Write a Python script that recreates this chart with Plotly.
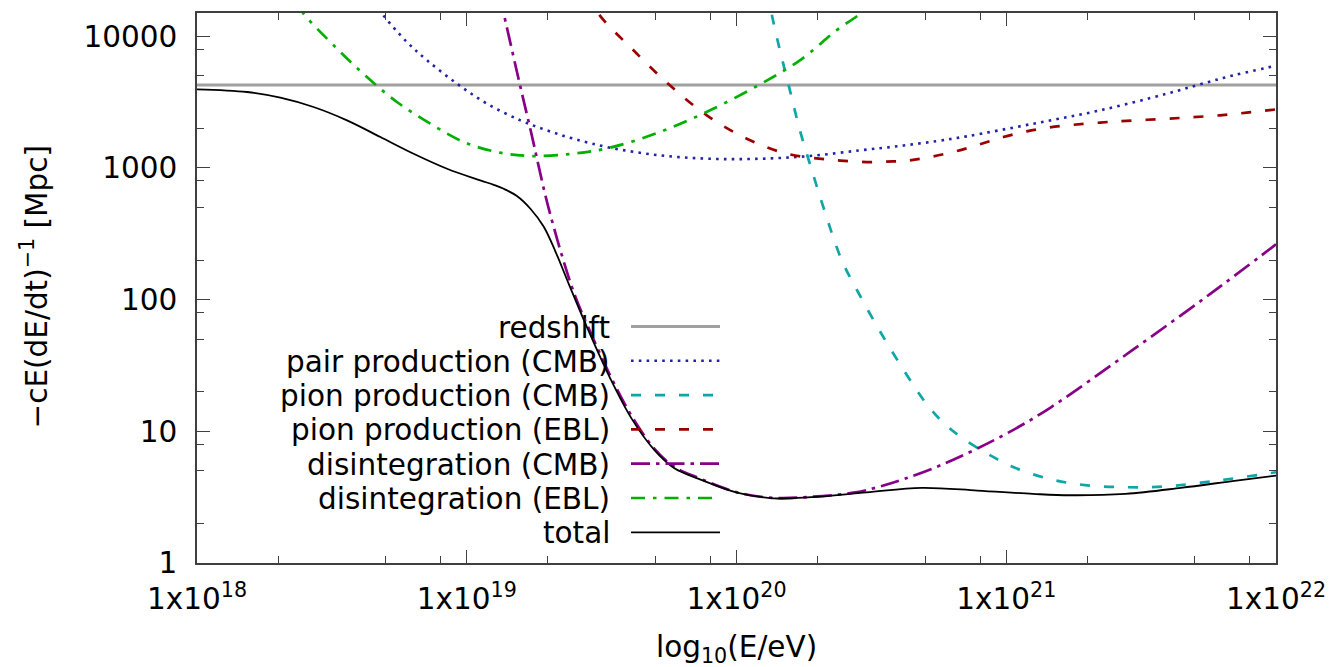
import plotly.graph_objects as go

# ---------------- data (x: log10(E/eV), y: loss length in Mpc) ----------------
redshift_logE = [18.0, 22.0]
redshift_val = [4270, 4270]

pair_logE = [18.66, 18.686, 18.778, 18.853, 18.964, 19.075, 19.199, 19.297, 19.396, 19.531,
             19.716, 19.902, 20.087, 20.272, 20.458, 20.606, 20.742, 20.853, 21.100, 21.348,
             21.595, 21.718, 21.842, 21.99, 22.0]
pair_val = [18000, 14870, 9060, 6570, 4365, 3080, 2300, 1931, 1668, 1426,
            1247, 1175, 1175, 1233, 1361, 1470, 1600, 1738, 2169, 2740,
            3664, 4317, 5054, 5919, 5990]

pion_cmb_logE = [20.115, 20.130, 20.161, 20.198, 20.235, 20.272, 20.322, 20.39, 20.456, 20.543,
                 20.635, 20.70, 20.76, 20.83, 20.93, 21.03, 21.167, 21.30, 21.45, 21.579,
                 21.785, 22.0]
pion_cmb_val = [22000, 14870, 7830, 3890, 1931, 1077, 505, 200, 109, 52.6,
                26.1, 16.6, 12.0, 9.1, 6.76, 5.31, 4.31, 3.89, 3.76, 3.80,
                4.23, 4.89]

pion_ebl_logE = [19.45, 19.488, 19.618, 19.753, 19.89, 20.038, 20.186, 20.334, 20.483, 20.581,
                 20.643, 20.73, 20.816, 20.903, 20.989, 21.076, 21.162, 21.249, 21.348, 21.446,
                 21.595, 21.694, 21.792, 21.891, 22.0]
pion_ebl_val = [21000, 14870, 7830, 4246, 2512, 1668, 1285, 1162, 1109, 1122,
                1143, 1225, 1343, 1514, 1718, 1897, 2032, 2128, 2213, 2280,
                2366, 2432, 2512, 2630, 2786]

dis_cmb_logE = [19.12, 19.137, 19.199, 19.236, 19.304, 19.397, 19.45, 19.53, 19.61, 19.695,
                19.77, 19.86, 20.002, 20.139, 20.276, 20.441, 20.53, 20.619, 20.756, 20.893,
                21.03, 21.167, 21.47, 21.76, 22.0]
dis_cmb_val = [21000, 14870, 4121, 1970, 491, 113, 62, 27.0, 13.2, 7.4,
               5.37, 4.42, 3.44, 3.12, 3.18, 3.44, 3.80, 4.33, 5.52, 7.41,
               10.35, 15.3, 41.7, 112, 263]

dis_ebl_logE = [18.37, 18.395, 18.519, 18.630, 18.741, 18.865, 18.989, 19.112, 19.236, 19.396,
                19.531, 19.716, 19.902, 20.087, 20.235, 20.371, 20.458, 20.49]
dis_ebl_val = [18000, 14870, 8060, 4909, 3170, 2169, 1574, 1321, 1233, 1285,
               1426, 1875, 2740, 4317, 6570, 11110, 14870, 17500]

total_logE = [18.0, 18.185, 18.309, 18.432, 18.556, 18.68, 18.803, 18.927, 19.05, 19.10,
              19.137, 19.186, 19.236, 19.285, 19.33, 19.378, 19.45, 19.53, 19.61, 19.695,
              19.77, 19.86, 20.002, 20.139, 20.276, 20.482, 20.687, 20.893, 21.099, 21.236,
              21.442, 21.647, 21.853, 22.0]
total_val = [3958, 3776, 3420, 2904, 2300, 1718, 1283, 987, 805, 745,
             695, 612, 490, 359, 229, 132, 58.9, 25.7, 12.6, 7.24,
             5.25, 4.36, 3.43, 3.10, 3.16, 3.44, 3.72, 3.55, 3.35, 3.27,
             3.35, 3.72, 4.23, 4.61]

x_tickvals_exp = [18, 19, 20, 21, 22]
y_tickvals = [1, 10, 100, 1000, 10000]
y_ticktext = ["1", "10", "100", "1000", "10000"]
minor_mults = [2, 5, 8]

series = [
    ("redshift", redshift_logE, redshift_val, "#a0a0a0", 3.0, "solid"),
    ("pair production (CMB)", pair_logE, pair_val, "#2323a8", 2.6, "2.6px,5.2px"),
    ("pion production (CMB)", pion_cmb_logE, pion_cmb_val, "#10a6a6", 2.7, "10px,14px"),
    ("pion production (EBL)", pion_ebl_logE, pion_ebl_val, "#9a0000", 2.7, "10px,14px"),
    ("disintegration (CMB)", dis_cmb_logE, dis_cmb_val, "#880088", 2.7, "19px,6px,3.5px,6px"),
    ("disintegration (EBL)", dis_ebl_logE, dis_ebl_val, "#00b000", 2.7, "14px,8px,3.5px,8px"),
    ("total", total_logE, total_val, "#000000", 1.8, "solid"),
]

FONT = "DejaVu Sans"
FS = 29.5

fig = go.Figure()
for name, lx, vals, color, width, dash in series:
    fig.add_trace(go.Scatter(
        x=[10 ** v for v in lx], y=vals, mode="lines", name=name, showlegend=False,
        line=dict(color=color, width=width, dash=dash, shape="spline", smoothing=1.0),
    ))

# ---------------- manual gnuplot-style key ----------------
L, R, T, B = 197, 61, 13, 104
W, H = 1337, 667
pw, ph = W - L - R, H - T - B

def px2paper_x(px):
    return (px - L) / pw

def px2paper_y(py):
    return (H - B - py) / ph

row_y0, row_dy = 326.5, 34.3
for i, (name, lx, vals, color, width, dash) in enumerate(series):
    yc = row_y0 + i * row_dy
    fig.add_shape(type="line", xref="paper", yref="paper",
                  x0=px2paper_x(631), x1=px2paper_x(720),
                  y0=px2paper_y(yc), y1=px2paper_y(yc),
                  line=dict(color=color, width=width, dash=dash))
    fig.add_annotation(xref="paper", yref="paper", x=px2paper_x(612), y=px2paper_y(yc + 1),
                       text=name, showarrow=False, xanchor="right", yanchor="middle",
                       font=dict(family=FONT, size=FS, color="black"))

# axis titles
fig.add_annotation(xref="paper", yref="paper", x=px2paper_x(736), y=px2paper_y(649),
                   text="log<sub>10</sub>(E/eV)", showarrow=False, xanchor="center", yanchor="middle",
                   font=dict(family=FONT, size=FS, color="black"))
fig.add_annotation(xref="paper", yref="paper", x=px2paper_x(34), y=px2paper_y(287.5),
                   text="\u2212cE(dE/dt)<sup>\u22121</sup> [Mpc]", showarrow=False, textangle=-90,
                   xanchor="center", yanchor="middle",
                   font=dict(family=FONT, size=FS, color="black"))

x_tickvals = [10.0 ** e for e in x_tickvals_exp]
x_ticktext = ["1x10<sup>%d</sup>" % e for e in x_tickvals_exp]
x_minor = [m * 10.0 ** e for e in x_tickvals_exp[:-1] for m in minor_mults]
y_minor = [m * 10.0 ** e for e in range(0, 5) for m in minor_mults]

axcol = "#404040"
common = dict(showgrid=False, zeroline=False, showline=True, linecolor=axcol, linewidth=1.5,
              mirror="allticks", ticks="inside", ticklen=13, tickwidth=1.2, tickcolor=axcol,
              tickfont=dict(family=FONT, size=FS, color="black"))

fig.update_layout(
    width=W, height=H,
    margin=dict(l=L, r=R, t=T, b=B, pad=0),
    paper_bgcolor="white", plot_bgcolor="white",
    xaxis=dict(type="log", range=[18, 22], tickmode="array", tickvals=x_tickvals, ticktext=x_ticktext,
               ticklabelstandoff=9,
               minor=dict(tickmode="array", tickvals=x_minor, ticks="inside", ticklen=7,
                          tickwidth=1.2, tickcolor=axcol, showgrid=False),
               **common),
    yaxis=dict(type="log", range=[0, 4.177], tickmode="array", tickvals=y_tickvals, ticktext=y_ticktext,
               ticklabelstandoff=12,
               minor=dict(tickmode="array", tickvals=y_minor, ticks="inside", ticklen=7,
                          tickwidth=1.2, tickcolor=axcol, showgrid=False),
               **common),
)

fig.write_html("out.html", config={"displayModeBar": False},
               post_script="document.body.style.margin='0px';")
